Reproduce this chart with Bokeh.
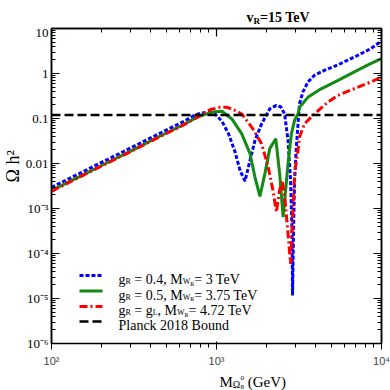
import math
from bokeh.plotting import figure
from bokeh.layouts import column
from bokeh.models import (LogAxis, FixedTicker, CustomJSTickFormatter, Label,
                          Arrow, Span, Title)
from bokeh.embed import file_html
from bokeh.resources import INLINE

# ---------------- data ----------------
mass_blue = [100, 150, 200, 300, 450, 621, 743, 820, 900, 980, 1079, 1183,
             1297, 1390, 1489, 1596, 1710, 1876, 2103, 2307, 2450, 2588, 2714,
             2812, 2869, 2890, 2930, 2973, 3045, 3143, 3186, 3340, 3579, 3921,
             4504, 5420, 6800, 8590, 10000]
omega_blue = [0.00295, 0.00617, 0.0105, 0.0219, 0.0462, 0.0832, 0.120, 0.133,
              0.136, 0.126, 0.0871, 0.0457, 0.0178, 0.00692, 0.00407, 0.0117,
              0.0324, 0.0759, 0.164, 0.195, 0.182, 0.126, 0.0324, 0.00417,
              0.000324, 0.0000117, 0.000316, 0.00417, 0.0229, 0.107, 0.214,
              0.389, 0.646, 0.912, 1.17, 1.55, 2.29, 3.55, 5.25]

mass_green = [100, 150, 200, 300, 450, 621, 743, 820, 900, 980, 1079, 1239,
              1423, 1596, 1710, 1833, 1963, 2103, 2287, 2415, 2535, 2714, 2840,
              2973, 3117, 3186, 3579, 4305, 5420, 6800, 8590, 10000]
omega_green = [0.00251, 0.00525, 0.00891, 0.0186, 0.0398, 0.0708, 0.102,
               0.117, 0.132, 0.141, 0.145, 0.0977, 0.0457, 0.0166, 0.00501,
               0.00186, 0.00589, 0.0214, 0.0355, 0.00589, 0.000646, 0.0100,
               0.0447, 0.0912, 0.126, 0.178, 0.295, 0.457, 0.692, 1.07, 1.66,
               2.14]

mass_red = [100, 150, 200, 300, 450, 621, 743, 819, 920, 1050, 1150, 1239,
            1423, 1634, 1876, 2057, 2200, 2307, 2410, 2505, 2600, 2720, 2812,
            2900, 2973, 3117, 3186, 3411, 3921, 4722, 5420, 6800, 8590, 10000]
omega_red = [0.0024, 0.00513, 0.00871, 0.0182, 0.0389, 0.0692, 0.100, 0.126,
             0.158, 0.178, 0.178, 0.164, 0.126, 0.0646, 0.0275, 0.00832,
             0.00251, 0.000832, 0.00251, 0.00417, 0.00158, 0.000251,
             0.0000589, 0.000794, 0.00589, 0.0195, 0.0389, 0.0759, 0.126,
             0.229, 0.324, 0.457, 0.646, 0.832]

planck_bound = 0.12

x_tick_values = [1e2, 1e3, 1e4]
x_tick_labels = ["10\u00b2", "10\u00b3", "10\u2074"]
y_tick_values = [1e-6, 1e-5, 1e-4, 1e-3, 1e-2, 1e-1, 1, 10]
y_tick_labels = ["10\u207b\u2076", "10\u207b\u2075", "10\u207b\u2074",
                 "10\u207b\u00b3", "0.01", "0.1", "1", "10"]

FONT = "Liberation Serif"
BLUE, GREEN, RED = "#0000ff", "#138a13", "#ff0000"
BLUE_DASH, RED_DASH, BLACK_DASH = "4 2", "8 3 2 3", "9 4"

# ---------------- main figure ----------------
p = figure(width=390, height=345, x_axis_type="log", y_axis_type="log",
           x_range=(100, 1e4), y_range=(1e-6, 10),
           output_backend="svg", toolbar_location=None,
           min_border_left=48, min_border_right=9, min_border_top=4,
           min_border_bottom=26)
p.background_fill_color = "white"
p.border_fill_color = "white"
p.outline_line_color = "black"
p.outline_line_width = 1.5
p.grid.visible = False


def log_minor(majors):
    out = []
    for v in majors[:-1]:
        out += [v * m for m in range(2, 10)]
    return out


x_ticker = FixedTicker(ticks=x_tick_values, minor_ticks=log_minor(x_tick_values))
y_ticker = FixedTicker(ticks=y_tick_values, minor_ticks=log_minor(y_tick_values))

fmt_code = """
let best = ""; let bd = 1e9;
for (let i = 0; i < vals.length; i++) {
  const d = Math.abs(Math.log10(tick) - Math.log10(vals[i]));
  if (d < bd) { bd = d; best = labels[i]; }
}
return bd < 1e-3 ? best : "";
"""

p.xaxis[0].ticker = x_ticker
p.yaxis[0].ticker = y_ticker
p.xaxis[0].formatter = CustomJSTickFormatter(
    args=dict(vals=x_tick_values, labels=x_tick_labels), code=fmt_code)
p.yaxis[0].formatter = CustomJSTickFormatter(
    args=dict(vals=y_tick_values, labels=y_tick_labels), code=fmt_code)

top = LogAxis(ticker=x_ticker, formatter=CustomJSTickFormatter(code="return '';"))
right = LogAxis(ticker=y_ticker, formatter=CustomJSTickFormatter(code="return '';"))
p.add_layout(top, "above")
p.add_layout(right, "right")

for ax in [p.xaxis[0], p.yaxis[0], top, right]:
    ax.axis_line_color = "black"
    ax.axis_line_width = 1.5
    ax.major_tick_in = 8
    ax.major_tick_out = 0
    ax.minor_tick_in = 4
    ax.minor_tick_out = 0
    ax.major_tick_line_color = "black"
    ax.minor_tick_line_color = "black"
    ax.major_tick_line_width = 1.2
    ax.minor_tick_line_width = 1.0
    ax.major_label_text_font = FONT
    ax.major_label_text_font_size = "13px"
    ax.major_label_text_color = "black"
for ax in [top, right]:
    ax.major_label_text_font_size = "1px"
    ax.major_label_standoff = 0
p.xaxis[0].major_label_standoff = 3
p.yaxis[0].major_label_standoff = 3

# y-axis title placed in the left panel
p.add_layout(Title(text="\u03a9 h\u00b2", align="left", offset=161,
                   vertical_align="bottom", standoff=0,
                   text_font=FONT, text_font_size="18px",
                   text_font_style="normal", text_color="black"), "left")

# curves
p.line(mass_blue, omega_blue, line_color=BLUE, line_width=3,
       line_dash=BLUE_DASH)
p.line(mass_green, omega_green, line_color=GREEN, line_width=3)
p.line(mass_red, omega_red, line_color=RED, line_width=3, line_dash=RED_DASH)
p.add_layout(Span(location=planck_bound, dimension="width",
                  line_color="black", line_width=2.5, line_dash=BLACK_DASH))

# ---------------- rich text helper ----------------
W_REG = {' ': 250, '=': 564, '.': 250, ',': 250, 'g': 500, 'R': 667,
         'M': 889, 'W': 944, 'T': 611, 'e': 444, 'V': 722, 'L': 611,
         'P': 556, 'l': 278, 'a': 444, 'n': 500, 'c': 444, 'k': 500,
         'B': 667, 'o': 500, 'u': 500, 'd': 500, '(': 333, ')': 333,
         'G': 722, 'v': 500, 'h': 500, '\u03a9': 768}
W_BOLD = {' ': 250, '=': 570, 'v': 500, 'R': 722, 'T': 667, 'e': 444,
          'V': 722}


def text_width(t, size, bold=False):
    table = W_BOLD if bold else W_REG
    return sum(table.get(c, 500) for c in t) * size / 1000.0


def rich(fig, x, y, parts, bold=False):
    """parts: (text, size, dy, advance)"""
    for t, size, dy, adv in parts:
        stripped = t.lstrip(" ")
        x += text_width(t[:len(t) - len(stripped)], size, bold)
        fig.add_layout(Label(x=x, y=y + dy, x_units="screen", y_units="screen",
                             text=stripped, text_font=FONT,
                             text_font_size=f"{size}px",
                             text_font_style="bold" if bold else "normal",
                             text_baseline="alphabetic", text_align="left",
                             text_color="black"))
        if adv:
            x += text_width(stripped, size, bold)


# ---------------- legend (inside the frame) ----------------
legend_rows = [
    (BLUE, BLUE_DASH, [("g", 14, 0, True), ("R", 8, -2, True),
                       (" = 0.4, M", 14, 0, True), ("W", 8, -2, True),
                       ("R", 6, -4, True), ("= 3 TeV", 14, 0, True)]),
    (GREEN, None, [("g", 14, 0, True), ("R", 8, -2, True),
                   (" = 0.5, M", 14, 0, True), ("W", 8, -2, True),
                   ("R", 6, -4, True), ("= 3.75 TeV", 14, 0, True)]),
    (RED, RED_DASH, [("g", 14, 0, True), ("R", 8, -2, True),
                     (" = g", 14, 0, True), ("L", 8, -2, True),
                     (", M", 14, 0, True), ("W", 8, -2, True),
                     ("R", 6, -4, True), ("= 4.72 TeV", 14, 0, True)]),
    ("black", BLACK_DASH, [("Planck 2018 Bound", 14, 0, True)]),
]
row_y = [68, 52.5, 37, 22]
for (col, dash, parts), yy in zip(legend_rows, row_y):
    kw = dict(line_dash=dash) if dash else {}
    p.add_layout(Arrow(end=None, x_start=28, y_start=yy, x_end=51, y_end=yy,
                       start_units="screen", end_units="screen",
                       line_color=col, line_width=3 if col != "black" else 2.5,
                       **kw))
    rich(p, 67, yy - 4, parts)


# ---------------- text strips above and below the plot ----------------
def strip(w, h):
    f = figure(width=w, height=h, x_range=(0, 1), y_range=(0, 1),
               output_backend="svg", toolbar_location=None,
               x_axis_location=None, y_axis_location=None,
               min_border=0, min_border_left=0, min_border_right=0,
               min_border_top=0, min_border_bottom=0)
    f.outline_line_color = None
    f.grid.visible = False
    f.background_fill_color = "white"
    f.border_fill_color = "white"
    return f


title_fig = strip(390, 24)
rich(title_fig, 195, 7, [("v", 14, 0, True), ("R", 9, -3, True),
                         ("=15 TeV", 14, 0, True)], bold=True)

xlab_fig = strip(390, 21)
rich(xlab_fig, 168, 9, [("M", 15, 0, True), ("\u03a9", 10, -3, True),
                        ("0", 7, 4, False), ("8", 7, -5, True),
                        (" (GeV)", 15, 0, True)])

layout = column(title_fig, p, xlab_fig)

open("out.html", "w").write(file_html(layout, INLINE))
